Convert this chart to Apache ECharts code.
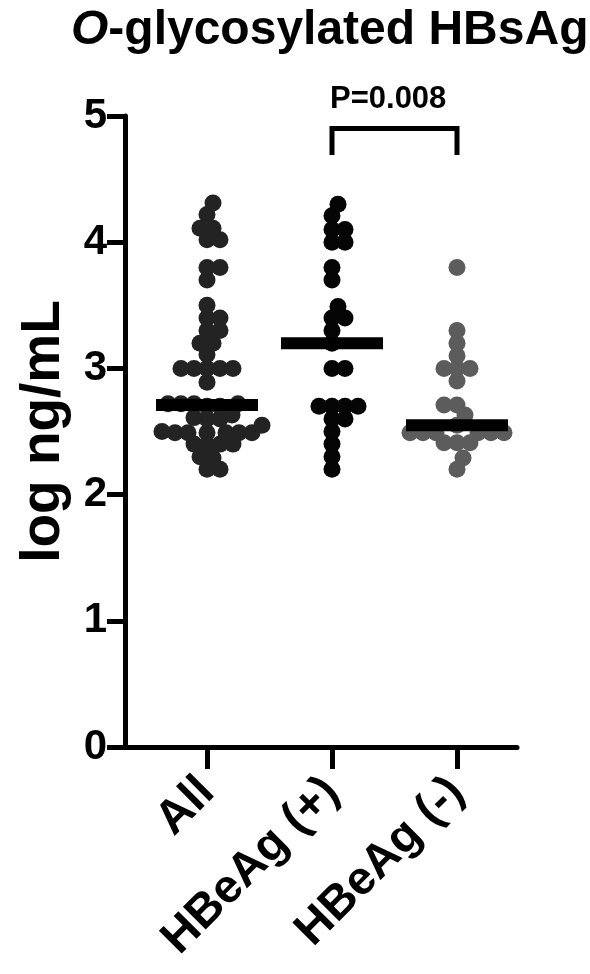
<!DOCTYPE html>
<html><head><meta charset="utf-8">
<script src="https://cdn.jsdelivr.net/npm/echarts@6/dist/echarts.min.js"></script>
<style>html,body{margin:0;padding:0;background:#fff}#c{width:590px;height:974px}</style>
</head><body><div id="c"></div>
<script>
// ---- data ----
const categories = ['All', 'HBeAg (+)', 'HBeAg (-)'];
const allValues = [4.31, 4.22, 4.11, 4.11, 4.02, 4.02, 3.8, 3.8, 3.7, 3.5, 3.4, 3.4, 3.3, 3.3, 3.2, 3.2, 3.11,
  3.0, 3.0, 3.0, 3.0, 3.0, 2.89, 2.72, 2.72, 2.72, 2.72, 2.7, 2.7, 2.63, 2.61, 2.6, 2.6, 2.55,
  2.5, 2.49, 2.49, 2.49, 2.49, 2.49, 2.49, 2.4, 2.4, 2.4, 2.39, 2.3, 2.29, 2.2, 2.2];
const posValues = [4.3, 4.21, 4.1, 4.1, 4.0, 4.0, 3.8, 3.7, 3.49, 3.4, 3.4, 3.3, 3.2, 3.0, 3.0,
  2.7, 2.7, 2.7, 2.7, 2.6, 2.6, 2.5, 2.4, 2.3, 2.2];
const negValues = [3.8, 3.3, 3.2, 3.1, 3.0, 3.0, 3.0, 2.9, 2.71, 2.71, 2.63, 2.55,
  2.49, 2.49, 2.49, 2.49, 2.49, 2.49, 2.41, 2.41, 2.41, 2.29, 2.2];
const medians = [2.71, 3.2, 2.55];
const yTicks = [0, 1, 2, 3, 4, 5];
const pLabel = 'P=0.008';
const bracket = { from: 1, to: 2, top: 4.9, bottom: 4.69 };

// ---- layout ----
const FONT = "'Liberation Sans', Arial, sans-serif";
const gridTop = 116, gridH = 631;
const yPx = gridH / 5;           // px per y unit
const catPx = 125;               // px per category
const dotSize = 17;

function swarm(values, minDist) {
  const placed = [];
  const order = values.map((v, i) => ({ v, i })).sort((a, b) => a.v - b.v);
  for (const p of order) {
    const y = p.v * yPx;
    let best = null;
    for (let k = 0; k < 400 && best === null; k++) {
      const cands = k === 0 ? [0] : [k, -k];
      for (const x of cands) {
        if (placed.every(q => Math.hypot(q.x - x, q.y - y) >= minDist)) { best = x; break; }
      }
    }
    placed.push({ x: best, y, v: p.v });
  }
  return placed;
}
function groupData(values, idx) {
  return swarm(values, 12.5).map(p => [idx + p.x / catPx, p.v]);
}
const groups = [allValues, posValues, negValues];
const colors = ['#232323', '#050505', '#5c5c5c'];

const series = groups.map((vals, i) => ({
  type: 'scatter', xAxisIndex: 1, yAxisIndex: 1,
  data: groupData(vals, i), symbol: 'circle', symbolSize: dotSize,
  itemStyle: { color: colors[i], opacity: 1 }, z: 2, silent: true
}));
series.push({
  type: 'scatter', xAxisIndex: 1, yAxisIndex: 1,
  data: medians.map((m, i) => [i, m]), symbol: 'rect', symbolSize: [102, 12],
  itemStyle: { color: '#000', opacity: 1 }, z: 5, silent: true
});
series.push({
  type: 'line', xAxisIndex: 1, yAxisIndex: 1, symbol: 'none', clip: false,
  data: [[bracket.from, bracket.bottom], [bracket.from, bracket.top], [bracket.to, bracket.top], [bracket.to, bracket.bottom]],
  lineStyle: { color: '#000', width: 5, cap: 'butt', join: 'miter' }, z: 5, silent: true
});

const chart = echarts.init(document.getElementById('c'), null, { renderer: 'canvas' });
chart.setOption({
  animation: false,
  backgroundColor: '#fff',
  title: {
    text: '{it|O}-glycosylated HBsAg', left: 66, top: 2,
    textStyle: { fontFamily: FONT, fontSize: 48, fontWeight: 'bold', color: '#000',
      rich: { it: { fontFamily: FONT, fontSize: 48, fontWeight: 'bold', fontStyle: 'italic', color: '#000' } } }
  },
  graphic: [{
    type: 'text', left: 330, top: 84,
    style: { text: pLabel, font: "bold 31px 'Liberation Sans', Arial, sans-serif", fill: '#000' }
  }],
  grid: [
    { left: 125, top: gridTop, width: 392, height: gridH, containLabel: false },
    { left: 207 - catPx / 2, top: gridTop, width: catPx * 3, height: gridH, containLabel: false }
  ],
  xAxis: [
    { type: 'value', gridIndex: 0, min: 0, max: 1, axisLine: { show: true, onZero: false, lineStyle: { color: '#000', width: 5 } },
      axisTick: { show: false }, axisLabel: { show: false }, splitLine: { show: false } },
    { type: 'value', gridIndex: 1, min: -0.5, max: 2.5, show: false },
    { type: 'category', gridIndex: 1, data: categories, position: 'bottom', boundaryGap: true,
      axisLine: { show: false }, splitLine: { show: false },
      axisTick: { show: true, alignWithLabel: true, length: 22, lineStyle: { color: '#000', width: 5 } },
      axisLabel: { rotate: 45, margin: 38, fontFamily: FONT, fontSize: 47, fontWeight: 'bold', color: '#000', interval: 0 } }
  ],
  yAxis: [
    { type: 'value', gridIndex: 0, min: 0, max: 5, interval: 1,
      name: 'log ng/mL', nameLocation: 'middle', nameGap: 54, nameRotate: 90,
      nameTextStyle: { fontFamily: FONT, fontSize: 55, fontWeight: 'bold', color: '#000' },
      axisLine: { show: true, lineStyle: { color: '#000', width: 5 } },
      axisTick: { show: true, length: 18, lineStyle: { color: '#000', width: 5 } },
      axisLabel: { margin: 18, fontFamily: FONT, fontSize: 42, fontWeight: 'bold', color: '#000',
        formatter: v => yTicks.includes(v) ? String(v) : '' },
      splitLine: { show: false } },
    { type: 'value', gridIndex: 1, min: 0, max: 5, show: false }
  ],
  series
});
</script></body></html>
